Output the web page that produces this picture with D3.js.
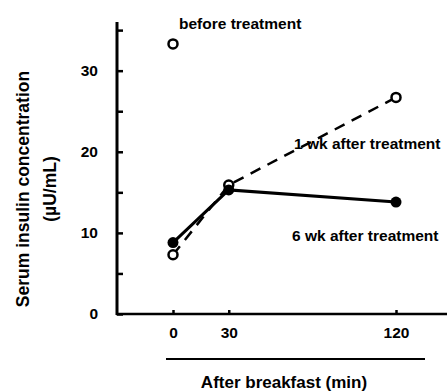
<!DOCTYPE html>
<html>
<head>
<meta charset="UTF-8">
<title>Serum insulin after breakfast</title>
<script src="https://cdn.jsdelivr.net/npm/d3@7"></script>
<style>
  body { margin: 0; background: #fff; }
  svg text { font-family: "Liberation Sans", Arial, sans-serif; fill: #000; }
</style>
</head>
<body>
<div id="chart"></div>
<script>
// values
var times = [0, 30, 120];
var beforeTreatment = [33.3];          // only the fasting value
var week1 = [7.3, 15.9, 26.7];         // open circles, dashed
var week6 = [8.8, 15.3, 13.8];         // filled circles, solid
var yTicks = [0, 5, 10, 15, 20, 25, 30, 35];
var xTickLabels = ["0", "30", "120"];

var w = 447, h = 392;

var svg = d3.select("#chart").append("svg")
    .attr("width", w)
    .attr("height", h);

var x = d3.scaleLinear().domain([0, 120]).range([173, 396]);
var y = d3.scaleLinear().domain([0, 36]).range([314, 22]);

// y axis, ticks point into the plot
var yAxis = d3.axisLeft(y)
    .tickValues(yTicks)
    .tickSize(-6)
    .tickSizeOuter(0)
    .tickPadding(19)
    .tickFormat(function(d){ return d % 10 === 0 ? d : ""; });

var gy = svg.append("g")
    .attr("transform", "translate(117,0)")
    .call(yAxis);
gy.select(".domain").remove();
gy.selectAll(".tick line").attr("stroke", "#000").attr("stroke-width", 2.5);
gy.selectAll(".tick text")
    .style("font-size", "15.5px").style("font-weight", "bold");
svg.append("line")
    .attr("x1", 117).attr("x2", 117)
    .attr("y1", y(36)).attr("y2", y(0) + 1)
    .attr("stroke", "#000").attr("stroke-width", 3);

// x axis
var xAxis = d3.axisBottom(x)
    .tickValues(times)
    .tickSize(-4)
    .tickSizeOuter(0)
    .tickPadding(13)
    .tickFormat(function(d, i){ return xTickLabels[i]; });

var gx = svg.append("g")
    .attr("transform", "translate(0," + y(0) + ")")
    .call(xAxis);
gx.select(".domain").remove();
gx.selectAll(".tick line").attr("stroke", "#000").attr("stroke-width", 2.5);
gx.selectAll(".tick text")
    .style("font-size", "15.5px").style("font-weight", "bold");
svg.append("line")
    .attr("x1", 116).attr("x2", w)
    .attr("y1", y(0)).attr("y2", y(0))
    .attr("stroke", "#000").attr("stroke-width", 2.5);

// rule under the tick labels
svg.append("line")
    .attr("x1", 166).attr("x2", 425)
    .attr("y1", 359).attr("y2", 359)
    .attr("stroke", "#000").attr("stroke-width", 2);

svg.append("text")
    .attr("x", 284).attr("y", 388)
    .attr("text-anchor", "middle")
    .style("font-size", "17px").style("font-weight", "bold")
    .text("After breakfast (min)");

// y title, two lines
svg.append("text")
    .attr("transform", "translate(29,189) rotate(-90)")
    .attr("text-anchor", "middle")
    .style("font-size", "17.5px").style("font-weight", "bold")
    .text("Serum insulin concentration");
svg.append("text")
    .attr("transform", "translate(56,189) rotate(-90)")
    .attr("text-anchor", "middle")
    .style("font-size", "17.5px").style("font-weight", "bold")
    .text("(\u00b5U/mL)");

var line = d3.line()
    .x(function(d, i){ return x(times[i]); })
    .y(function(d){ return y(d); });

// 1 wk: dashed line with open circles
svg.append("path")
    .datum(week1)
    .attr("d", line)
    .attr("fill", "none")
    .attr("stroke", "#000")
    .attr("stroke-width", 2.5)
    .attr("stroke-dasharray", "11,8");

svg.selectAll("circle.wk1")
    .data(week1)
  .enter().append("circle")
    .attr("class", "wk1")
    .attr("cx", function(d, i){ return x(times[i]); })
    .attr("cy", function(d){ return y(d); })
    .attr("r", 4.5)
    .attr("fill", "#fff")
    .attr("stroke", "#000")
    .attr("stroke-width", 2.5);

// before treatment: single open circle
svg.selectAll("circle.before")
    .data(beforeTreatment)
  .enter().append("circle")
    .attr("class", "before")
    .attr("cx", function(d, i){ return x(times[i]); })
    .attr("cy", function(d){ return y(d); })
    .attr("r", 4.5)
    .attr("fill", "#fff")
    .attr("stroke", "#000")
    .attr("stroke-width", 2.5);

// 6 wk: solid line with filled circles
svg.append("path")
    .datum(week6)
    .attr("d", line)
    .attr("fill", "none")
    .attr("stroke", "#000")
    .attr("stroke-width", 3);

svg.selectAll("circle.wk6")
    .data(week6)
  .enter().append("circle")
    .attr("class", "wk6")
    .attr("cx", function(d, i){ return x(times[i]); })
    .attr("cy", function(d){ return y(d); })
    .attr("r", 5.5)
    .attr("fill", "#000");

// series labels
var notes = [
  {t: "before treatment", x: 179, y: 29},
  {t: "1 wk after treatment", x: 294, y: 149},
  {t: "6 wk after treatment", x: 292, y: 241}
];
svg.selectAll("text.note")
    .data(notes)
  .enter().append("text")
    .attr("class", "note")
    .attr("x", function(d){ return d.x; })
    .attr("y", function(d){ return d.y; })
    .style("font-size", "15.5px").style("font-weight", "bold")
    .text(function(d){ return d.t; });
</script>
</body>
</html>
